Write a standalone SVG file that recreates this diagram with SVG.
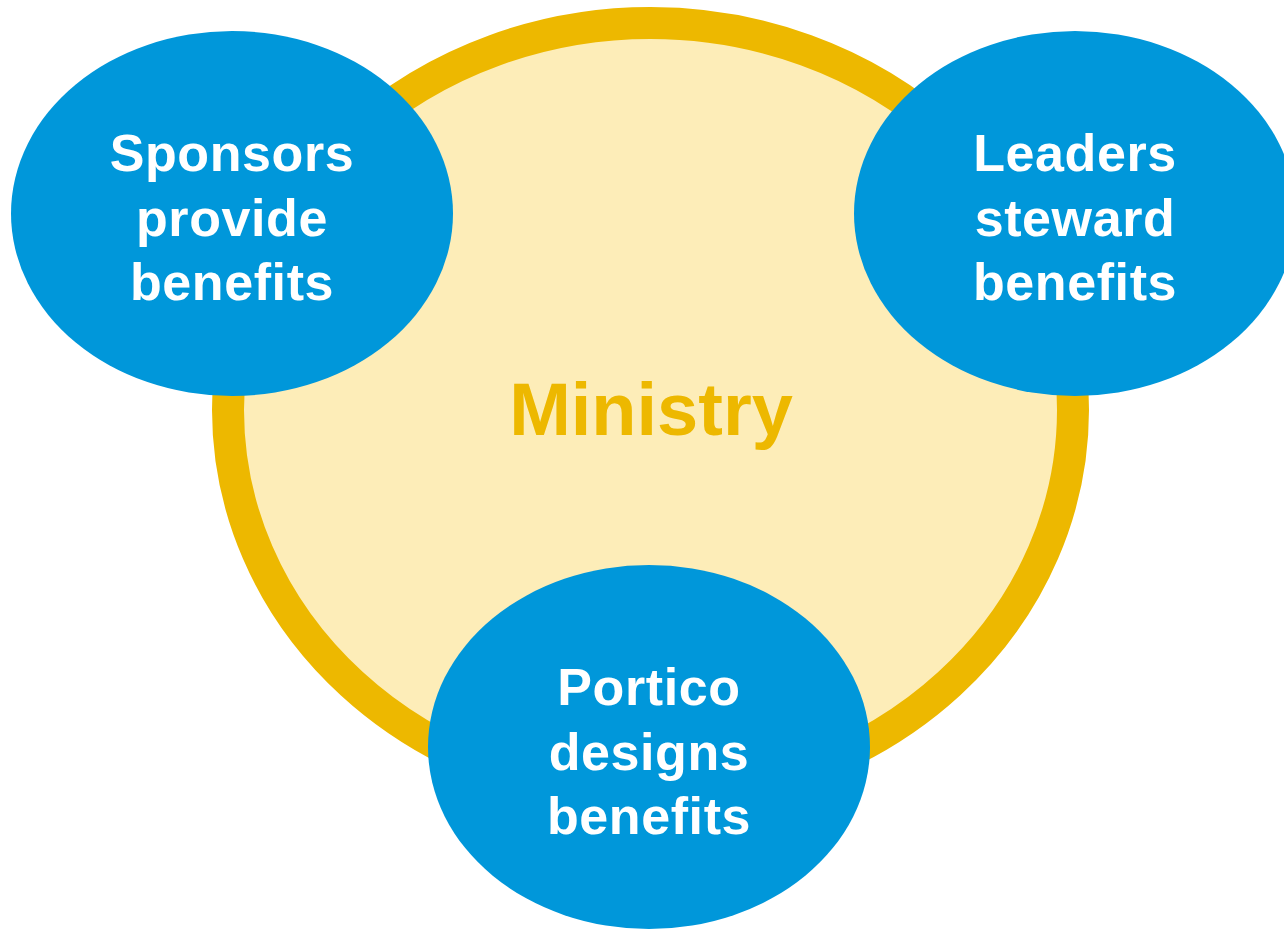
<svg xmlns="http://www.w3.org/2000/svg" width="1284" height="929" viewBox="0 0 1284 929">
<style>
.blue{fill:#0097DA}
.lbl{font-family:"Liberation Sans",Arial,sans-serif;font-weight:bold;font-size:52px;fill:#FFFFFF;text-anchor:middle;letter-spacing:0.6px}
</style>
<rect width="1284" height="929" fill="#FFFFFF"/>
<g id="ministry">
<ellipse cx="650.5" cy="410" rx="422.5" ry="387" fill="#FDEDB8" stroke="#EDB800" stroke-width="32"/>
<text x="651" y="435" font-family="'Liberation Sans',Arial,sans-serif" font-weight="bold" font-size="74" fill="#EDB800" text-anchor="middle">Ministry</text>
</g>
<g id="connectors"></g>
<g id="sponsors">
<ellipse class="blue" cx="232" cy="213.5" rx="221" ry="182.5"/>
<text class="lbl" x="232" y="171">Sponsors</text>
<text class="lbl" x="232" y="236">provide</text>
<text class="lbl" x="232" y="300">benefits</text>
</g>
<g id="leaders">
<ellipse class="blue" cx="1075" cy="213.5" rx="221" ry="182.5"/>
<text class="lbl" x="1075" y="171">Leaders</text>
<text class="lbl" x="1075" y="236">steward</text>
<text class="lbl" x="1075" y="300">benefits</text>
</g>
<g id="portico">
<ellipse class="blue" cx="649" cy="747" rx="221" ry="182"/>
<text class="lbl" x="649" y="705">Portico</text>
<text class="lbl" x="649" y="770">designs</text>
<text class="lbl" x="649" y="834">benefits</text>
</g>
</svg>
